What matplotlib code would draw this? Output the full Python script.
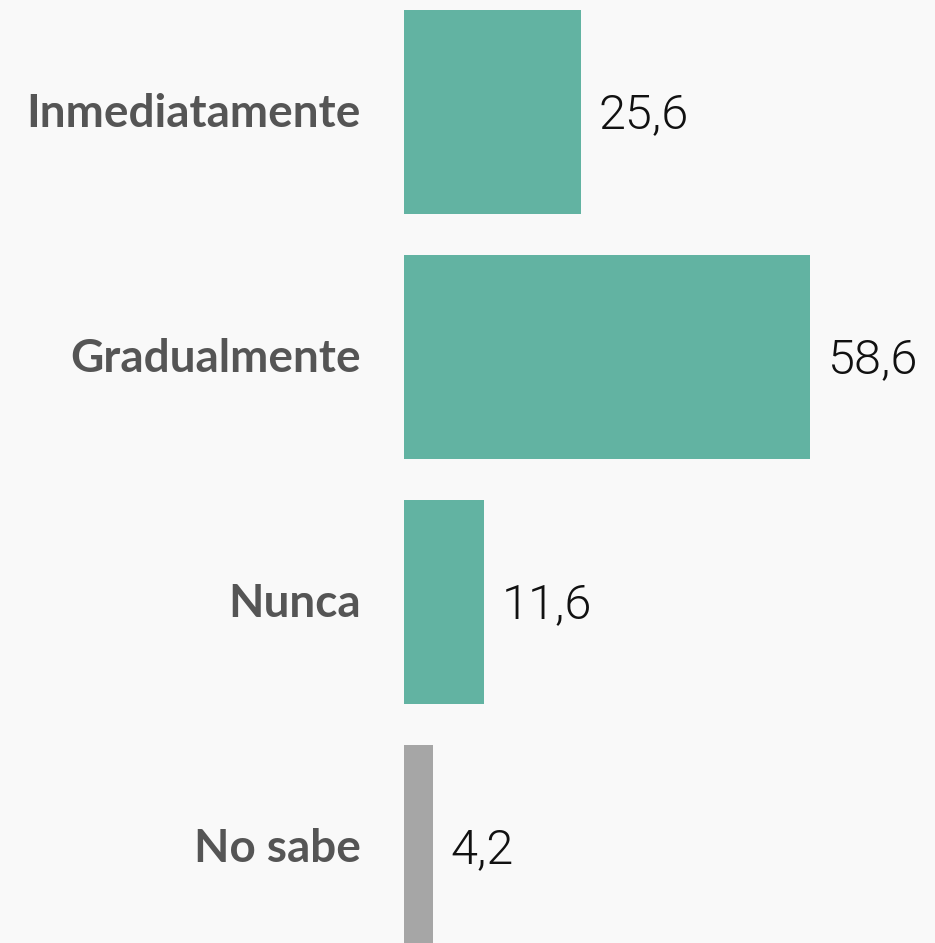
import matplotlib
matplotlib.use("Agg")
import matplotlib.pyplot as plt
from matplotlib.transforms import offset_copy

categorias = ["Inmediatamente", "Gradualmente", "Nunca", "No sabe"]
valores = [25.6, 58.6, 11.6, 4.2]
etiquetas = ["25,6", "58,6", "11,6", "4,2"]
colores = ["#62b3a2", "#62b3a2", "#62b3a2", "#a6a6a6"]

W, H = 935, 943
fig = plt.figure(figsize=(W / 100, H / 100), dpi=100)
fig.patch.set_facecolor("#f9f9f9")

# ejes desde el borde izquierdo de las barras hasta el borde derecho
left = 404 / W
ax = fig.add_axes([left, 0, 1 - left, 1])
ax.set_facecolor("#f9f9f9")

pos = list(range(len(categorias)))
ax.barh(pos, valores, height=0.833, color=colores)

ax.set_xlim(0, (W - 404) / 6.93)
ax.set_ylim((H - 112) / 245, -112 / 245)

for s in ax.spines.values():
    s.set_visible(False)
ax.set_xticks([])
ax.set_yticks([])

# etiquetas de categoría
trans_lab = offset_copy(ax.transData, fig=fig, x=-43, y=-2, units="dots")
for p, c in zip(pos, categorias):
    ax.text(0, p, c, transform=trans_lab, ha="right", va="center",
            fontsize=33, fontweight="bold", color="#555555",
            family=["Lato", "DejaVu Sans"], clip_on=False)

# valores
trans_val = offset_copy(ax.transData, fig=fig, x=17, y=-3, units="dots")
for p, v, t in zip(pos, valores, etiquetas):
    ax.text(v, p, t, transform=trans_val, ha="left", va="center",
            fontsize=35, fontweight=300, color="#111111",
            family=["Roboto", "DejaVu Sans"])

fig.savefig("out.png", dpi=100, facecolor=fig.get_facecolor())
